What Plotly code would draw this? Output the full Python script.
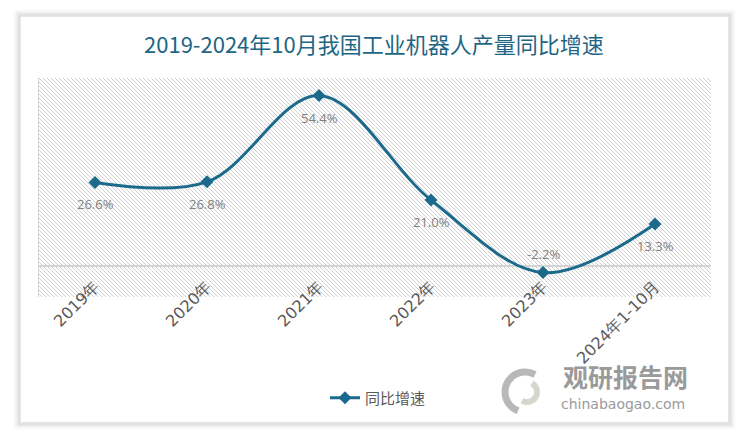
import base64
import plotly.graph_objects as go

categories = ["2019年", "2020年", "2021年", "2022年", "2023年", "2024年1-10月"]
growth = [26.6, 26.8, 54.4, 21.0, -2.2, 13.3]
label_text = ["26.6%", "26.8%", "54.4%", "21.0%", "-2.2%", "13.3%"]
label_side = ["below", "below", "below", "below", "above", "below"]

LINE = "#1c6a8b"
GRAY_TXT = "#595959"

# hatch background (pattern image sized to the plot area)
svg = ("<svg xmlns='http://www.w3.org/2000/svg' width='672' height='219'>"
       "<defs><pattern id='p' width='4' height='4' patternUnits='userSpaceOnUse'>"
       "<path d='M-1,-1 L5,5 M-1,3 L1,5 M3,-1 L5,1' stroke='#cfcfcf' stroke-width='1'/>"
       "</pattern></defs><rect width='672' height='219' fill='white'/>"
       "<rect width='672' height='219' fill='url(#p)'/></svg>")
hatch_src = "data:image/svg+xml;base64," + base64.b64encode(svg.encode()).decode()

fig = go.Figure()
fig.add_trace(go.Scatter(
    x=categories, y=growth, mode="lines+markers", name="同比增速",
    line=dict(color=LINE, width=3, shape="spline", smoothing=1.0),
    marker=dict(symbol="diamond", size=10, color=LINE),
))

for c, v, t, s in zip(categories, growth, label_text, label_side):
    fig.add_annotation(x=c, y=v, text=t, showarrow=False,
                       yshift=19 if s == "above" else -22,
                       font=dict(family="Open Sans, Noto Sans", size=13, color="#808080"))

# card border + soft shadow (unfilled frames, pixel -> paper conversion)
L, R, T, B = 39, 711, 78, 297
W, H = R - L, B - T
def px(x):
    return (x - L) / W
def py(y):
    return (B - y) / H

shapes = []
for i, a in enumerate([0.10, 0.07, 0.05, 0.035, 0.02, 0.012]):
    d = i + 1
    shapes.append(dict(type="rect", xref="paper", yref="paper",
                       x0=px(20 - d), x1=px(729 + d), y0=py(423 + d), y1=py(16 - d),
                       line=dict(color=f"rgba(0,0,0,{a})", width=1.5), fillcolor="rgba(0,0,0,0)",
                       layer="below"))
shapes.append(dict(type="rect", xref="paper", yref="paper",
                   x0=px(20), x1=px(729), y0=py(423), y1=py(16),
                   line=dict(color="#dedede", width=1.5), fillcolor="rgba(0,0,0,0)", layer="below"))

# watermark logo (rough swirl made of two arcs)
def arc_path(cx, cy, r, a0, a1, n=24):
    import math
    pts = []
    for k in range(n + 1):
        a = math.radians(a0 + (a1 - a0) * k / n)
        pts.append((px(cx + r * math.cos(a)), py(cy - r * math.sin(a))))
    return "M " + " L ".join(f"{x:.4f},{y:.4f}" for x, y in pts)

shapes.append(dict(type="path", xref="paper", yref="paper", path=arc_path(525, 392, 20, 60, 250),
                   line=dict(color="rgba(160,160,160,0.75)", width=7), layer="above"))
shapes.append(dict(type="path", xref="paper", yref="paper", path=arc_path(527, 392, 10, 240, 420),
                   line=dict(color="rgba(200,200,190,0.75)", width=6), layer="above"))
fig.update_layout(shapes=shapes)

fig.add_layout_image(dict(source=hatch_src, xref="paper", yref="paper", x=0, y=1,
                          sizex=1, sizey=1, sizing="stretch", xanchor="left", yanchor="top",
                          layer="below"))

fig.add_annotation(xref="paper", yref="paper", x=px(374), y=py(43), showarrow=False,
                   text="2019-2024年10月我国工业机器人产量同比增速",
                   font=dict(family="Noto Sans CJK SC", size=22, color="#1f6584"),
                   xanchor="center", yanchor="middle")

# watermark text
fig.add_annotation(xref="paper", yref="paper", x=px(625), y=py(376), showarrow=False,
                   text="<b>观研报告网</b>", font=dict(family="Noto Sans CJK SC", size=25, color="#9a9a9a"),
                   xanchor="center", yanchor="middle")
fig.add_annotation(xref="paper", yref="paper", x=px(623), y=py(404), showarrow=False,
                   text="chinabaogao.com", font=dict(family="DejaVu Sans", size=14, color="#9a9a9a"),
                   xanchor="center", yanchor="middle")

fig.update_layout(
    width=750, height=440,
    margin=dict(l=L, r=750 - R, t=T, b=440 - B),
    paper_bgcolor="white", plot_bgcolor="rgba(0,0,0,0)",
    showlegend=True,
    legend=dict(orientation="h", x=px(378), y=py(398), xanchor="center", yanchor="middle",
                font=dict(family="Noto Sans CJK SC", size=15, color=GRAY_TXT),
                bgcolor="rgba(0,0,0,0)", itemwidth=30),
    xaxis=dict(type="category", range=[-0.5, 5.5], tickangle=-45, showgrid=True,
               gridcolor="rgba(255,255,255,0.5)", tickson="boundaries", ticks="",
               ticklabelstandoff=-24,
               tickfont=dict(family="DejaVu Sans", size=16, color=GRAY_TXT),
               showline=False, zeroline=False),
    yaxis=dict(range=[-10, 60], showticklabels=False, showgrid=False, ticks="",
               zeroline=True, zerolinecolor="#d4d4d4", zerolinewidth=1.5,
               showline=True, linecolor="#d4d4d4", linewidth=1),
)

fig.write_html("out.html")
